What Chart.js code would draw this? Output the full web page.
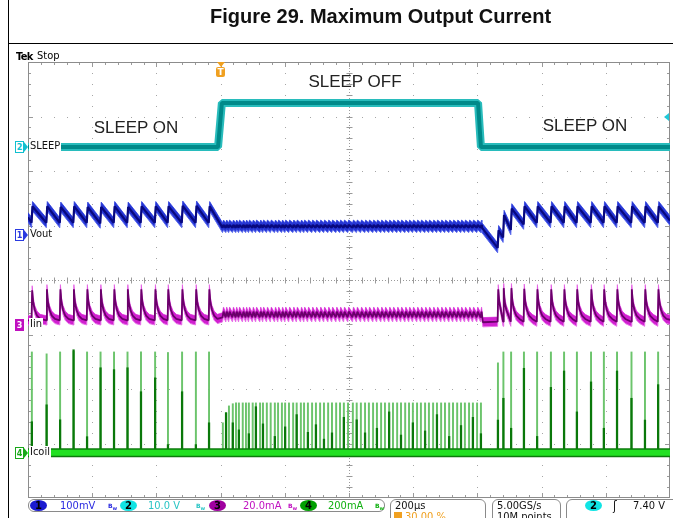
<!DOCTYPE html>
<html>
<head>
<meta charset="utf-8">
<title>Figure 29. Maximum Output Current</title>
<script src="https://cdn.jsdelivr.net/npm/chart.js@4.4.1/dist/chart.umd.min.js"></script>
<style>
  html, body { margin: 0; padding: 0; background: #fff; }
  body { position: relative; width: 673px; height: 518px; overflow: hidden; }
  #scope { position: absolute; left: 0; top: 0; }
  .abs { position: absolute; white-space: nowrap; line-height: 1; }
  .cond { font-family: "DejaVu Sans Condensed", "DejaVu Sans", sans-serif; font-stretch: condensed; }
  #title { left: 88px; width: 585px; top: 5px; text-align: center; font: bold 20px "Liberation Sans", Arial, sans-serif; color: #111; }
  .rule { position: absolute; background: #000; }
  .note { position: absolute; font: 17px "Liberation Sans", Arial, sans-serif; color: #222; transform: translate(-50%, -50%); white-space: nowrap; }
  .mk { position: absolute; left: 15px; width: 7px; height: 10px; border: 1px solid; font: bold 9px "DejaVu Sans Condensed", "DejaVu Sans", sans-serif; font-stretch: condensed; line-height: 10px; text-align: center; background: #fff; }
  .mk::after { content: ""; position: absolute; left: 8px; top: 0px; border-top: 5px solid transparent; border-bottom: 5px solid transparent; border-left: 4px solid currentColor; }
  .lbl { position: absolute; left: 29px; font: 11px "DejaVu Sans Condensed", "DejaVu Sans", sans-serif; font-stretch: condensed; color: #111; background: #fff; padding: 0 1px; line-height: 12px; }
  .box { position: absolute; top: 499px; border: 1px solid #8a8a8a; border-radius: 6px; box-sizing: border-box; }
  .sb { position: absolute; top: 500px; font: 11px "DejaVu Sans Condensed", "DejaVu Sans", sans-serif; font-stretch: condensed; line-height: 12px; white-space: nowrap; }
  .pill { position: absolute; top: 500px; width: 17px; height: 11px; border-radius: 50%; font: bold 10px "DejaVu Sans", sans-serif; text-align: center; line-height: 11px; color: #000; }
  .bw { position: absolute; top: 502px; font: bold 6px "DejaVu Sans", sans-serif; line-height: 7px; }
</style>
</head>
<body>
<canvas id="scope" width="673" height="518"></canvas>

<div class="rule" style="left:8px;top:0;width:1px;height:518px"></div>
<div class="rule" style="left:8px;top:43px;width:665px;height:1px"></div>
<div id="title" class="abs">Figure 29. Maximum Output Current</div>

<div class="abs cond" style="left:16px;top:51px;font-size:11px;font-weight:bold;letter-spacing:-0.6px">Tek</div>
<div class="abs cond" style="left:37px;top:50px;font-size:11px">Stop</div>

<div id="trigTri" class="abs" style="top:62px;width:0;height:0;border-left:4px solid transparent;border-right:4px solid transparent;border-top:5px solid #f0a020"></div>
<div id="trigBox" class="abs" style="top:67px;width:9px;height:10px;background:#f0a020;border-radius:2px;color:#fff;font:bold 9px 'DejaVu Sans',sans-serif;text-align:center;line-height:10px">T</div>
<div class="abs" style="left:664px;top:113px;width:0;height:0;border-top:4px solid transparent;border-bottom:4px solid transparent;border-right:5px solid #20c8d8"></div>

<div class="note" style="left:136px;top:128px">SLEEP ON</div>
<div class="note" style="left:355px;top:82px">SLEEP OFF</div>
<div class="note" style="left:585px;top:126px">SLEEP ON</div>

<div id="mk2" class="mk" style="color:#10c0d0;border-color:#10c0d0">2</div>
<div id="lb2" class="lbl">SLEEP</div>
<div id="mk1" class="mk" style="color:#2a3ae0;border-color:#2a3ae0">1</div>
<div id="lb1" class="lbl">Vout</div>
<div id="mk3" class="mk" style="color:#fff;background:#c010c0;border-color:#c010c0">3</div>
<div id="lb3" class="lbl">Iin</div>
<div id="mk4" class="mk" style="color:#18a818;border-color:#18a818">4</div>
<div id="lb4" class="lbl">Icoil</div>

<!-- status bar -->
<div class="box" style="left:28px;width:357px;height:13px"></div>
<div class="pill" style="left:30px;background:#1a1ad0">1</div>
<div class="sb" style="left:60px;color:#2a2ae0">100mV</div>
<div class="bw" style="left:108px;color:#2a2ae0">B<sub>w</sub></div>
<div class="pill" style="left:120px;background:#10e4e4">2</div>
<div class="sb" style="left:148px;color:#28c4c4">10.0 V</div>
<div class="bw" style="left:196px;color:#28c4c4">B<sub>w</sub></div>
<div class="pill" style="left:209px;background:#a000a0">3</div>
<div class="sb" style="left:243px;color:#c010c0">20.0mA</div>
<div class="bw" style="left:288px;color:#c010c0">B<sub>w</sub></div>
<div class="pill" style="left:300px;background:#00a000">4</div>
<div class="sb" style="left:328px;color:#10b010">200mA</div>
<div class="bw" style="left:375px;color:#10b010">B<sub>w</sub></div>

<div class="box" style="left:390px;width:96px;height:30px"></div>
<div class="sb" style="left:395px;color:#111">200µs</div>
<div class="abs" style="left:394px;top:512px;width:8px;height:8px;background:#f0a020"></div>
<div class="sb" style="left:405px;top:511px;color:#f0a020">30.00 %</div>

<div class="box" style="left:492px;width:69px;height:30px"></div>
<div class="sb" style="left:497px;color:#111">5.00GS/s</div>
<div class="sb" style="left:497px;top:511px;color:#111">10M points</div>

<div class="box" style="left:566px;width:120px;height:30px"></div>
<div class="pill" style="left:585px;background:#10e4e4">2</div>
<div class="sb" style="left:613px;color:#111;font-size:12px">ʃ</div>
<div class="sb" style="left:633px;color:#111">7.40 V</div>

<script>
// horizontal: 200 µs/div, 10 div, trigger at 30 %
const timeRange = [0, 2000];
const triggerTime = 600;

// vertical settings per channel: units/div and marker position (div above centre)
const chPerDiv = [10, 100, 20, 200];        // SLEEP V, Vout mV, Iin mA, Icoil mA
const chOffsetDiv = [2.44, 0.83, -0.83, -3.17];

// switching pulses (µs): SLEEP ON, SLEEP OFF, SLEEP ON again
const pulsesOn1 = [12, 58, 100, 142, 184, 226, 268, 310, 352, 396, 436, 480, 523, 564];
const pulsesOff = [607, 617, 626, 638, 648, 657, 669, 679, 688, 700,
  710, 723, 732, 744, 756, 769, 779, 791, 801, 813,
  826, 837, 850, 860, 872, 885, 897, 910, 922, 935,
  947, 960, 972, 984, 997, 1012, 1024, 1037, 1050, 1062,
  1075, 1087, 1100, 1112, 1125, 1137, 1150, 1162, 1175, 1187,
  1199, 1212, 1224, 1237, 1249, 1262, 1274, 1287, 1299, 1312,
  1324, 1337, 1349, 1361, 1374, 1386, 1399, 1411];
const pulsesOn2 = [1464, 1481, 1505, 1545, 1586, 1629, 1670, 1710, 1754, 1794, 1835, 1880, 1922, 1963];

// SLEEP (V)
const sleepT = [0, 592, 604, 1402, 1411, 2000];
const sleepV = [0, 0, 8.1, 8.1, 0, 0];

// Vout (mV)
const voutStart = 32;
const voutPeakOn1 = [52, 52, 51, 52, 51, 51, 52, 51, 52, 52, 52, 53, 53, 52];
const voutTroughOn1 = [22, 22, 22, 22, 22, 21, 22, 22, 22, 22, 22, 22, 22, 22];
const voutRippleOff = [13, 18];               // low, high
const voutDipT = [1414];
const voutDipV = [13];
const voutPeakOn2 = [8, 36, 48, 52, 52, 52, 52, 52, 52, 52, 52, 52, 52, 52];
const voutTroughOn2 = [-24, -5, 9, 19, 22, 22, 22, 22, 22, 22, 22, 22, 22, 22];
const voutEnd = 26;

// Iin (mA)
const iinBase = [1.8, 1.1, 1.3];              // on, after sleep-off edge, on again
const iinPeakOn1 = [12.8, 13.2, 13.2, 13.2, 13.2, 13.2, 13.2, 13.2, 13.2, 13.2, 13.2, 13.2, 13.2, 13.2];
const iinPeakOn2 = [13.2, 13.6, 13.6, 13.4, 13.2, 13.2, 13.2, 13.2, 13.2, 13.2, 13.2, 13.2, 13.2, 13.2];
const iinDecayT = [4, 9, 16, 26];             // µs after a pulse
const iinDecayV = [8.6, 5.6, 3.5, 2.3];
const iinRippleOff = [2.9, 5.0];
const iinEnd = 2.0;

// Icoil (mA): full spike height and darker core height
const icoilPeakOn1 = [370, 363, 370, 372, 370, 370, 370, 370, 370, 370, 368, 370, 370, 370];
const icoilCoreOn1 = [114, 176, 121, 378, 59, 312, 305, 312, 224, 275, 30, 224, 30, 110];
const icoilPeakOff = [110, 147, 172, 180, 183, 183, 183, 183, 183, 183,
  183, 183, 183, 183, 183, 183, 183, 183, 183, 183,
  183, 183, 183, 183, 183, 183, 183, 183, 183, 183,
  183, 183, 183, 183, 183, 183, 183, 183, 183, 183,
  183, 183, 183, 183, 183, 183, 183, 183, 183, 183,
  183, 183, 183, 183, 183, 183, 183, 183, 183, 183,
  183, 183, 183, 183, 183, 183, 183, 183];
const icoilCoreOff = [0, 147, 0, 110, 0, 84, 0, 0, 70, 0,
  169, 0, 106, 0, 0, 60, 0, 0, 95, 0,
  0, 140, 0, 0, 75, 0, 103, 0, 50, 0,
  73, 0, 0, 130, 0, 0, 121, 0, 73, 0,
  0, 90, 0, 0, 150, 0, 0, 65, 0, 0,
  110, 0, 0, 80, 0, 0, 140, 0, 0, 60,
  0, 0, 100, 0, 0, 130, 0, 70];
const icoilPeakOn2 = [330, 370, 370, 370, 370, 370, 370, 370, 370, 370, 370, 370, 370, 370];
const icoilCoreOn2 = [120, 200, 90, 310, 60, 240, 300, 150, 260, 90, 300, 200, 120, 250];

const pt = (x, y) => ({ x, y });

const sleepTrace = sleepT.map((t, i) => pt(t, sleepV[i]));

const voutTrace = [pt(timeRange[0], voutStart)];
pulsesOn1.forEach((t, i) => voutTrace.push(pt(t - 1, voutTroughOn1[i]), pt(t + 2, voutPeakOn1[i])));
pulsesOff.forEach(t => voutTrace.push(pt(t - 1, voutRippleOff[0]), pt(t + 2, voutRippleOff[1])));
voutDipT.forEach((t, i) => voutTrace.push(pt(t, voutDipV[i])));
pulsesOn2.forEach((t, i) => voutTrace.push(pt(t - 1, voutTroughOn2[i]), pt(t + 2, voutPeakOn2[i])));
voutTrace.push(pt(timeRange[1], voutEnd));

function iinPulses(out, times, peaks, base) {
  times.forEach((t, i) => {
    const next = i + 1 < times.length ? times[i + 1] : Infinity;
    out.push(pt(t - 1, base), pt(t + 1, peaks[i]));
    iinDecayT.forEach((dt, k) => { if (t + dt < next - 2) out.push(pt(t + dt, iinDecayV[k])); });
  });
}
const iinTrace = [pt(timeRange[0], iinBase[0])];
iinPulses(iinTrace, pulsesOn1, iinPeakOn1, iinBase[0]);
pulsesOff.forEach(t => iinTrace.push(pt(t - 1, iinRippleOff[0]), pt(t + 2, iinRippleOff[1])));
iinTrace.push(pt(pulsesOff[pulsesOff.length - 1] + 6, iinBase[1]));
iinPulses(iinTrace, pulsesOn2, iinPeakOn2, iinBase[2]);
iinTrace.push(pt(timeRange[1], iinEnd));

const spikes = (times, tops) => times.map((t, i) => ({ x: t, y: [0, tops[i]] })).filter(p => p.y[1] > 0);
const icoilLight = [].concat(spikes(pulsesOn1, icoilPeakOn1), spikes(pulsesOff, icoilPeakOff), spikes(pulsesOn2, icoilPeakOn2));
const icoilDark = [].concat(spikes(pulsesOn1, icoilCoreOn1), spikes(pulsesOff, icoilCoreOff), spikes(pulsesOn2, icoilCoreOn2));
const icoilBase = [pt(timeRange[0], 0), pt(timeRange[1], 0)];

// persistence band of a trace: half thickness in screen divisions
const voutBandDiv = 0.09;
const iinBandDiv = 0.085;
const shifted = (trace, ch, band, sign) => trace.map(p => pt(p.x, p.y + sign * band * chPerDiv[ch]));

function chAxis(i) {
  return { type: 'linear', display: false, min: (-4 - chOffsetDiv[i]) * chPerDiv[i], max: (4 - chOffsetDiv[i]) * chPerDiv[i] };
}

// oscilloscope graticule drawn from the scales
const graticule = {
  id: 'graticule',
  beforeDatasetsDraw(chart) {
    const { ctx, chartArea: a, scales: { x, yDiv } } = chart;
    ctx.save();
    ctx.fillStyle = '#a6a6a6';
    for (let i = 1; i < 10; i++) {
      if (i === 5) continue;
      const px = Math.round(x.getPixelForValue(i * 200));
      for (let j = 1; j < 40; j++) ctx.fillRect(px, Math.round(yDiv.getPixelForValue(-4 + j * 0.2)), 1, 1);
    }
    for (let k = -3; k <= 3; k++) {
      if (k === 0) continue;
      const py = Math.round(yDiv.getPixelForValue(k));
      for (let j = 1; j < 50; j++) ctx.fillRect(Math.round(x.getPixelForValue(j * 40)), py, 1, 1);
    }
    // centre cross, dashed, with minor ticks
    const cx = Math.round(x.getPixelForValue(1000)) + 0.5;
    const cy = Math.round(yDiv.getPixelForValue(0)) + 0.5;
    ctx.strokeStyle = '#9a9a9a';
    ctx.lineWidth = 1;
    ctx.setLineDash([1, 2]);
    ctx.beginPath();
    ctx.moveTo(a.left, cy); ctx.lineTo(a.right, cy);
    ctx.moveTo(cx, a.top); ctx.lineTo(cx, a.bottom);
    ctx.stroke();
    ctx.setLineDash([]);
    ctx.beginPath();
    for (let j = 1; j < 50; j++) {
      const px = Math.round(x.getPixelForValue(j * 40)) + 0.5;
      ctx.moveTo(px, cy - 3); ctx.lineTo(px, cy + 3);
      ctx.moveTo(px, a.top); ctx.lineTo(px, a.top + (j % 5 === 0 ? 5 : 3));
      ctx.moveTo(px, a.bottom); ctx.lineTo(px, a.bottom - (j % 5 === 0 ? 5 : 3));
    }
    for (let j = 1; j < 40; j++) {
      const py = Math.round(yDiv.getPixelForValue(-4 + j * 0.2)) + 0.5;
      ctx.moveTo(cx - 3, py); ctx.lineTo(cx + 3, py);
      ctx.moveTo(a.left, py); ctx.lineTo(a.left + (j % 5 === 0 ? 5 : 3), py);
      ctx.moveTo(a.right, py); ctx.lineTo(a.right - (j % 5 === 0 ? 5 : 3), py);
    }
    ctx.stroke();
    ctx.strokeStyle = '#8c8c8c';
    ctx.strokeRect(a.left + 0.5, a.top + 0.5, a.width - 1, a.height - 1);
    ctx.restore();
  }
};

const line = (data, color, width, axis, order, extra) => Object.assign({
  type: 'line', data, borderColor: color, borderWidth: width, yAxisID: axis, order,
  pointRadius: 0, fill: false, tension: 0, borderJoinStyle: 'bevel', borderCapStyle: 'butt'
}, extra || {});
const bars = (data, color, thick, order) => ({
  type: 'bar', data, backgroundColor: color, borderWidth: 0, barThickness: thick,
  grouped: false, yAxisID: 'yIcoil', order
});

const chart = new Chart(document.getElementById('scope').getContext('2d'), {
  type: 'line',
  data: {
    datasets: [
      line(icoilBase, '#22e022', 6, 'yIcoil', 1),
      line(icoilBase, '#0c7a0c', 9, 'yIcoil', 2),
      bars(icoilDark, '#0a780a', 1.6, 3),
      bars(icoilLight, '#6cc46c', 1.3, 4),
      line(voutTrace, '#08087e', 2.2, 'yVout', 5),
      line(shifted(voutTrace, 1, voutBandDiv, 1), '#5868ec', 1, 'yVout', 7),
      line(shifted(voutTrace, 1, voutBandDiv, -1), '#5868ec', 1, 'yVout', 6, { fill: '-1', backgroundColor: '#2636d4' }),
      line(iinTrace, '#6a006a', 1.8, 'yIin', 8),
      line(shifted(iinTrace, 2, iinBandDiv, 1), '#e870e8', 1, 'yIin', 10),
      line(shifted(iinTrace, 2, iinBandDiv, -1), '#e870e8', 1, 'yIin', 9, { fill: '-1', backgroundColor: '#d020d0' }),
      line(sleepTrace, '#008a8a', 4, 'ySleep', 11),
      line(sleepTrace, '#28bcbc', 8, 'ySleep', 12)
    ]
  },
  options: {
    responsive: false,
    animation: false,
    events: [],
    layout: { padding: { left: 28, top: 62, right: 3, bottom: 20 } },
    plugins: { legend: { display: false }, tooltip: { enabled: false } },
    scales: {
      x: { type: 'linear', display: false, min: timeRange[0], max: timeRange[1], offset: false },
      yDiv: { type: 'linear', display: false, min: -4, max: 4 },
      ySleep: chAxis(0),
      yVout: chAxis(1),
      yIin: chAxis(2),
      yIcoil: chAxis(3)
    }
  },
  plugins: [graticule]
});

// channel ground markers and trigger marker placed from the scales
const axisIds = ['ySleep', 'yVout', 'yIin', 'yIcoil'];
const mkIds = ['2', '1', '3', '4'];
axisIds.forEach((id, i) => {
  const py = chart.scales[id].getPixelForValue(0);
  document.getElementById('mk' + mkIds[i]).style.top = (py - 6) + 'px';
  document.getElementById('lb' + mkIds[i]).style.top = (py - 7) + 'px';
});
const tx = chart.scales.x.getPixelForValue(triggerTime);
document.getElementById('trigTri').style.left = (tx - 4) + 'px';
document.getElementById('trigBox').style.left = (tx - 4.5) + 'px';
</script>
</body>
</html>
